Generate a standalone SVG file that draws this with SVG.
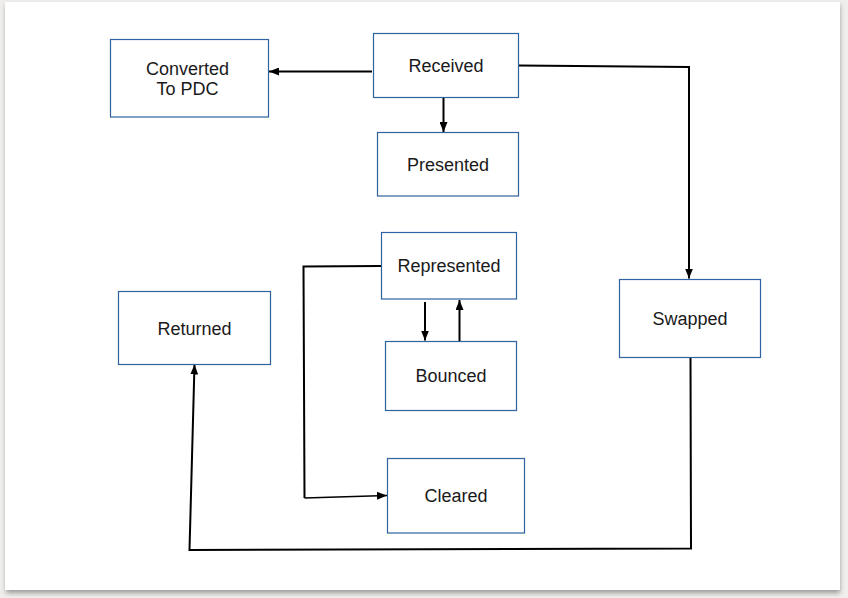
<svg xmlns="http://www.w3.org/2000/svg" width="848" height="598" viewBox="0 0 848 598">
<defs>
<marker id="ah" markerWidth="10" markerHeight="8" refX="10" refY="4" orient="auto" markerUnits="userSpaceOnUse">
<path d="M0,0 L10,4 L0,8 Z" fill="#000"/>
</marker>
<filter id="sh" x="-5%" y="-5%" width="110%" height="110%">
<feGaussianBlur stdDeviation="2.5"/>
</filter>
</defs>
<style>
.box{fill:#fff;stroke:#2f62a0;stroke-width:1.2}
.lbl{font-family:"Liberation Sans",Arial,sans-serif;font-size:18px;fill:#1a1a1a;text-anchor:middle}
.c{fill:none;stroke:#000;stroke-width:2}
.ca{fill:none;stroke:#000;stroke-width:2;marker-end:url(#ah)}
</style>
<rect x="0" y="0" width="848" height="598" fill="#efeeec"/>
<rect x="6" y="5" width="834" height="588" fill="#9a9a9a" filter="url(#sh)"/>
<rect x="5" y="2" width="835" height="588" fill="#fff"/>
<g id="connectors">
<path class="ca" d="M372,71.5 L269,71.5"/>
<path class="ca" d="M443.5,97.5 L443.5,132"/>
<path class="ca" d="M518.5,65.5 L689,67 L689,278.5"/>
<path class="ca" d="M425,302 L425,340.5"/>
<path class="ca" d="M459.5,341 L459.5,300"/>
<path class="c" d="M381,266 L303.5,266.5 L304.5,498"/>
<path class="ca" style="stroke-width:1.3" d="M304.5,498 L387,495.5"/>
<path class="ca" d="M690.5,357.5 L691,548.5 L189.5,550 L194.5,364.5"/>
</g>
<g id="converted">
<rect class="box" x="110.5" y="39.5" width="158" height="77.5"/>
<text class="lbl" x="187.5" y="75">Converted</text>
<text class="lbl" x="187.5" y="95">To PDC</text>
</g>
<g id="received">
<rect class="box" x="373.5" y="33.5" width="145" height="64"/>
<text class="lbl" x="446" y="72">Received</text>
</g>
<g id="presented">
<rect class="box" x="377.5" y="132.5" width="141" height="63.5"/>
<text class="lbl" x="448" y="171">Presented</text>
</g>
<g id="represented">
<rect class="box" x="381.5" y="232.5" width="135" height="66.5"/>
<text class="lbl" x="449" y="272">Represented</text>
</g>
<g id="bounced">
<rect class="box" x="385.5" y="341.5" width="131" height="69"/>
<text class="lbl" x="451" y="382">Bounced</text>
</g>
<g id="cleared">
<rect class="box" x="387.5" y="458.5" width="137" height="74.5"/>
<text class="lbl" x="456" y="502">Cleared</text>
</g>
<g id="swapped">
<rect class="box" x="619.5" y="279.5" width="141" height="78"/>
<text class="lbl" x="690" y="325">Swapped</text>
</g>
<g id="returned">
<rect class="box" x="118.5" y="291.5" width="152" height="73"/>
<text class="lbl" x="194.5" y="335">Returned</text>
</g>
</svg>
